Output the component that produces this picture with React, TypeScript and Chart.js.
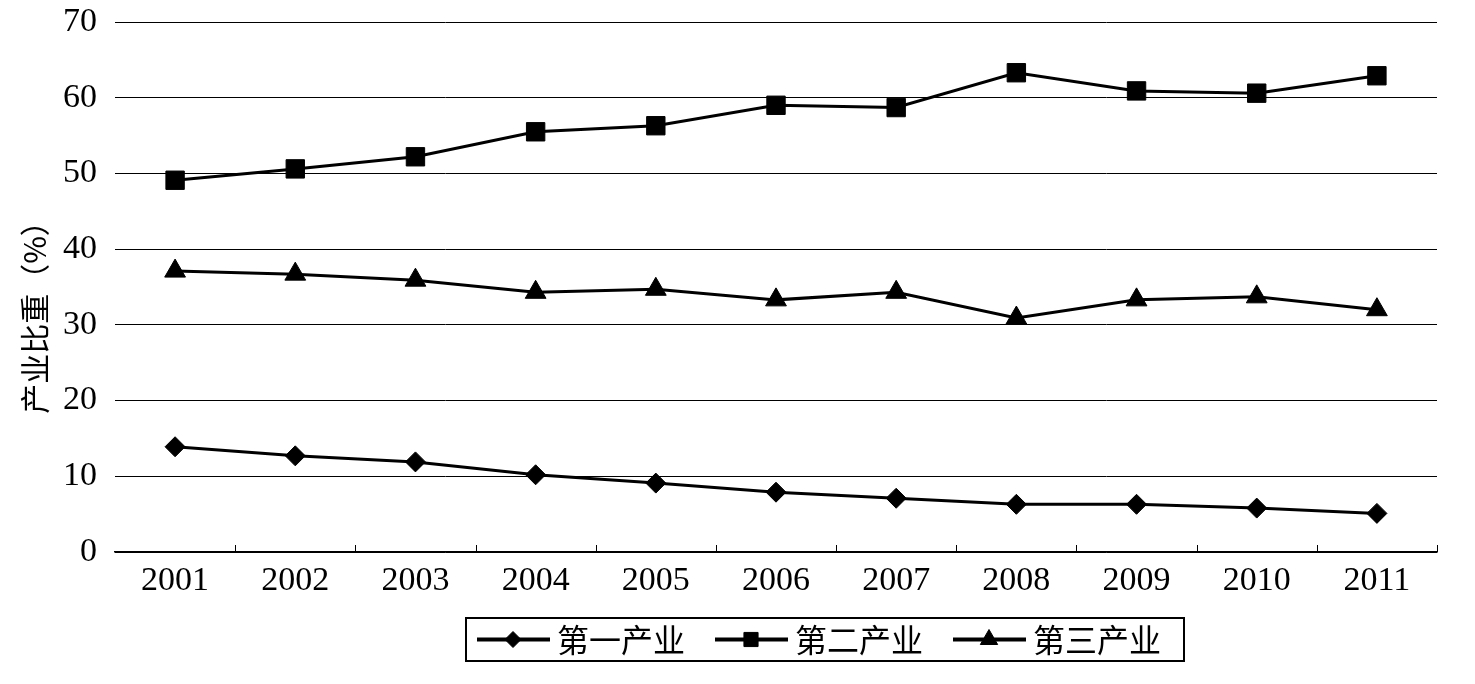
import React, { useEffect, useRef } from 'react';
import { Chart, registerables } from 'chart.js';
import { drawPoint } from 'chart.js/helpers';

Chart.register(...registerables);

const years = ['2001', '2002', '2003', '2004', '2005', '2006', '2007', '2008', '2009', '2010', '2011'];
const primary = [13.9, 12.7, 11.9, 10.2, 9.1, 7.9, 7.1, 6.3, 6.3, 5.8, 5.1];
const secondary = [49.1, 50.6, 52.2, 55.5, 56.3, 59.0, 58.7, 63.3, 60.9, 60.6, 62.9];
const tertiary = [37.1, 36.7, 35.9, 34.3, 34.7, 33.3, 34.3, 30.9, 33.3, 33.7, 32.0];
const seriesNames = ['第一产业', '第二产业', '第三产业'];
const yTitle = '产业比重（%）';
const yMin = 0;
const yMax = 70;
const yStep = 10;

const SERIF = "'Liberation Serif', 'Times New Roman', 'Noto Sans CJK SC', serif";
const CJK = "'Noto Sans CJK SC', 'Liberation Serif', serif";

const markerStyles = [
  { pointStyle: 'rectRot', radius: 10, legendRadius: 8 },
  { pointStyle: 'rect', radius: 13, legendRadius: 10 },
  { pointStyle: 'triangle', radius: 12, legendRadius: 10 },
];

const extrasPlugin = {
  id: 'extras',
  afterDraw(chart: any) {
    const c = chart.ctx as CanvasRenderingContext2D;
    const xs = chart.scales.x;
    c.save();
    // inward tick marks at category boundaries
    const n = chart.data.labels.length;
    c.strokeStyle = '#000';
    c.lineWidth = 1;
    for (let i = 1; i <= n; i++) {
      const x = Math.round(xs.left + (i * xs.width) / n) + 0.5;
      c.beginPath();
      c.moveTo(x, xs.top);
      c.lineTo(x, xs.top - 7);
      c.stroke();
    }
    // legend box
    const boxL = 465, boxT = 617, boxW = 718, boxH = 43;
    c.lineWidth = 2;
    c.strokeRect(boxL + 1, boxT + 1, boxW, boxH);
    chart.data.datasets.forEach((ds: any, i: number) => {
      const x0 = boxL + 12 + i * 238;
      const cy = boxT + boxH / 2 + 1;
      c.lineWidth = 4;
      c.strokeStyle = '#000';
      c.beginPath();
      c.moveTo(x0, cy);
      c.lineTo(x0 + 73, cy);
      c.stroke();
      c.fillStyle = '#000';
      c.lineWidth = 1;
      drawPoint(c, { pointStyle: markerStyles[i].pointStyle, radius: markerStyles[i].legendRadius, rotation: 0, borderWidth: 1 } as any, x0 + 36, cy);
      c.fillStyle = '#000';
      c.font = `32px ${CJK}`;
      c.textBaseline = 'middle';
      c.textAlign = 'left';
      c.fillText(ds.label, x0 + 80, cy);
    });
    // y axis title
    c.translate(35, 310);
    c.rotate(-Math.PI / 2);
    c.textAlign = 'center';
    c.textBaseline = 'middle';
    c.font = `30px ${CJK}`;
    c.fillStyle = '#000';
    c.fillText(yTitle, 0, 0);
    c.restore();
  },
};

export default function App() {
  const ref = useRef<HTMLCanvasElement>(null);
  useEffect(() => {
    document.body.style.margin = '0';
    const canvas = ref.current!;
    const series = [primary, secondary, tertiary];
    const chart = new Chart(canvas, {
      type: 'line',
      data: {
        labels: years,
        datasets: series.map((d, i) => ({
          label: seriesNames[i],
          data: d,
          borderColor: '#000',
          backgroundColor: '#000',
          borderWidth: 3,
          tension: 0,
          pointStyle: markerStyles[i].pointStyle as any,
          pointRadius: markerStyles[i].radius,
          pointBackgroundColor: '#000',
          pointBorderColor: '#000',
          pointBorderWidth: 1,
        })),
      },
      options: {
        responsive: false,
        animation: false,
        devicePixelRatio: 1,
        layout: { padding: { top: 22, right: 38, left: 0, bottom: 0 } },
        plugins: { legend: { display: false }, tooltip: { enabled: false } },
        scales: {
          x: {
            offset: true,
            grid: { display: false },
            border: { display: true, color: '#000', width: 1.5 },
            ticks: { color: '#000', font: { family: SERIF, size: 34 }, padding: 1, maxRotation: 0, autoSkip: false },
            afterFit: (s: any) => { s.height = 132; s.paddingLeft = 0; s.paddingRight = 0; },
          },
          y: {
            min: yMin,
            max: yMax,
            ticks: { stepSize: yStep, color: '#000', font: { family: SERIF, size: 34 }, padding: 18 },
            grid: { color: '#000', lineWidth: 1, drawTicks: false },
            border: { display: false },
            afterFit: (s: any) => { s.width = 115; s.paddingTop = 0; s.paddingBottom = 0; },
          },
        },
      },
      plugins: [extrasPlugin],
    });
    return () => chart.destroy();
  }, []);
  return <canvas ref={ref} width={1475} height={684} style={{ display: 'block' }} />;
}
